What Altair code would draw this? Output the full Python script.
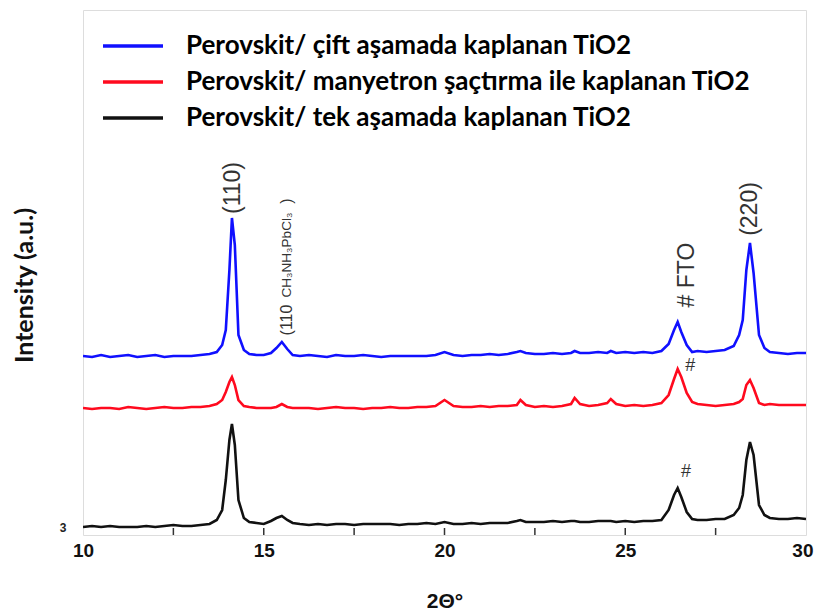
import altair as alt
import pandas as pd

# shared 2-theta grid (degrees)
two_theta = [
    10.0, 10.25, 10.5, 10.75, 11.0, 11.25, 11.5, 11.75, 12.0, 12.25, 12.5, 12.75, 13.0, 13.25, 13.5,
    13.7, 13.85, 13.95, 14.05, 14.12, 14.2, 14.3, 14.45, 14.6, 14.8,
    15.0, 15.2, 15.35, 15.5, 15.65, 15.8,
    16.0, 16.25, 16.5, 16.75, 17.0, 17.25, 17.5, 17.75, 18.0, 18.25, 18.5, 18.75,
    19.0, 19.25, 19.5, 19.75, 20.0, 20.25, 20.5, 20.75, 21.0, 21.25, 21.5, 21.75,
    22.0, 22.1, 22.25, 22.5, 22.75, 23.0, 23.25, 23.5, 23.6, 23.75,
    24.0, 24.25, 24.5, 24.6, 24.75, 25.0, 25.25, 25.5, 25.75, 26.0,
    26.2, 26.35, 26.45, 26.55, 26.7, 26.85, 27.0, 27.25, 27.5, 27.75,
    28.0, 28.15, 28.25, 28.35, 28.45, 28.55, 28.7, 28.85, 29.0, 29.25, 29.5, 29.75, 30.0,
]

# intensities (a.u., offset traces as drawn)
blue_cift = [
    179, 178, 180, 178, 179, 180, 178, 179, 180, 178, 179, 179, 179, 180, 181,
    183, 190, 205, 265, 317, 290, 200, 185, 181, 180,
    180, 182, 187, 193, 186, 180,
    179, 180, 179, 178, 180, 179, 179, 180, 179, 178, 179, 179,
    179, 179, 179, 180, 183, 180, 179, 180, 180, 181, 180, 181,
    183, 184, 182, 181, 181, 182, 181, 182, 184, 182,
    182, 183, 182, 184, 182, 183, 182, 183, 182, 184,
    191, 205, 213, 203, 190, 183, 184, 183, 184, 185,
    189, 200, 215, 265, 292, 262, 200, 187, 183, 182, 181, 182, 182,
]
red_manyetron = [
    127, 126, 127, 127, 126, 128, 127, 126, 127, 128, 127, 127, 128, 128, 129,
    131, 135, 143, 153, 158, 150, 135, 129, 128, 127,
    127, 127, 128, 131, 128, 127,
    127, 127, 126, 127, 128, 127, 127, 126, 127, 127, 128, 127,
    127, 128, 128, 129, 135, 129, 128, 128, 129, 128, 129, 129,
    130, 135, 130, 128, 129, 128, 129, 131, 137, 131,
    129, 130, 132, 136, 131, 129, 130, 129, 130, 132,
    140, 156, 166, 158, 142, 133, 131, 130, 129, 130,
    131, 133, 136, 150, 155, 147, 132, 130, 131, 130, 130, 130, 130,
]
black_tek = [
    8, 9, 8, 9, 8, 8, 8, 9, 8, 9, 10, 9, 9, 10, 11,
    15, 25, 55, 95, 111, 90, 35, 17, 13, 12,
    11, 14, 17, 19, 15, 12,
    11, 10, 11, 10, 11, 11, 10, 11, 11, 11, 11, 10,
    11, 11, 12, 11, 13, 11, 11, 12, 11, 12, 12, 12,
    14, 15, 13, 13, 13, 14, 13, 14, 14, 13,
    13, 14, 14, 14, 13, 14, 13, 14, 14, 15,
    25, 40, 47, 38, 23, 16, 15, 15, 16, 16,
    20, 27, 40, 75, 93, 80, 30, 20, 17, 16, 16, 17, 16,
]

series_names = [
    "Perovskit/ çift aşamada kaplanan TiO2",
    "Perovskit/ manyetron şaçtırma ile kaplanan TiO2",
    "Perovskit/ tek aşamada kaplanan TiO2",
]
series_colors = ["#1010ff", "#ff0a1e", "#111111"]

tick_values = [12.5, 15, 17.5, 20, 22.5, 25, 27.5]

ann_text = ["(110)", "(110", "CH₃NH₃PbCl₃", ")", "# FTO", "(220)"]
ann_x = [14.15, 15.64, 15.64, 15.64, 26.71, 28.45]
ann_y = [347, 215, 280, 334, 260, 326]
ann_size = [23, 16, 13.5, 16, 23, 23]

hash_x = [26.8, 26.68]
hash_y = [169, 63]

assert len(two_theta) == len(blue_cift) == len(red_manyetron) == len(black_tek)

rows = []
for name, ys in zip(series_names, [blue_cift, red_manyetron, black_tek]):
    for x, y in zip(two_theta, ys):
        rows.append({"x": x, "y": y, "series": name})
df = pd.DataFrame(rows)

xs = alt.Scale(domain=[10, 30], nice=False)
ys_ = alt.Scale(domain=[0, 525], nice=False)

lines = alt.Chart(df).mark_line(strokeWidth=2.6, clip=True).encode(
    x=alt.X("x:Q", scale=xs,
            axis=alt.Axis(title="2Θ°", values=[10, 15, 20, 25, 30], format="d", ticks=False,
                          domain=False, grid=False, labelFontSize=19, labelFont="Liberation Sans",
                          labelFontWeight="bold", labelColor="#111", labelPadding=6,
                          labelFlush=False,
                          labelAlign=alt.expr("datum.value == 30 ? 'right' : 'center'"),
                          labelOffset=alt.expr("datum.value == 30 ? 7 : 0"),
                          titleFontSize=21, titleFont="Liberation Sans",
                          titleFontWeight="bold", titleColor="#111", titlePadding=30)),
    y=alt.Y("y:Q", scale=ys_,
            axis=alt.Axis(title="Intensity (a.u.)", labels=False, ticks=False, domain=False,
                          grid=False, titleFontSize=25, titleFont="Lato", titleFontWeight="bold",
                          titleColor="#111", titlePadding=46, titleY=275)),
    color=alt.Color("series:N", scale=alt.Scale(domain=series_names, range=series_colors),
                    sort=series_names,
                    legend=alt.Legend(title=None, orient="none", legendX=37, legendY=23,
                                      symbolType="M-3,0L3,0", symbolSize=400, symbolStrokeWidth=3.5,
                                      labelFontSize=26, labelFont="Lato", labelFontWeight="bold",
                                      labelColor="#000", labelOffset=40, rowPadding=10,
                                      labelLimit=800, padding=0)),
    detail="series:N",
)

ticks_df = pd.DataFrame({"x": tick_values, "y0": [0] * len(tick_values), "y1": [7] * len(tick_values)})
ticks = alt.Chart(ticks_df).mark_rule(color="#333", strokeWidth=1.5).encode(
    x=alt.X("x:Q", scale=xs), y=alt.Y("y0:Q", scale=ys_), y2="y1:Q"
)

ann_df = pd.DataFrame({"t": ann_text, "x": ann_x, "y": ann_y, "s": ann_size})
ann = alt.Chart(ann_df).mark_text(angle=270, font="Liberation Sans", color="#333",
                                  align="center", baseline="middle").encode(
    x=alt.X("x:Q", scale=xs), y=alt.Y("y:Q", scale=ys_), text="t:N",
    size=alt.Size("s:Q", scale=None, legend=None),
)

hash_df = pd.DataFrame({"x": hash_x, "y": hash_y, "t": ["#", "#"]})
hashes = alt.Chart(hash_df).mark_text(font="Liberation Sans", fontSize=18, color="#333",
                                      align="center", baseline="middle").encode(
    x=alt.X("x:Q", scale=xs), y=alt.Y("y:Q", scale=ys_), text="t:N"
)

glitch_df = pd.DataFrame({"x": [9.45], "y": [7], "t": ["3"]})
glitch = alt.Chart(glitch_df).mark_text(font="Liberation Sans", fontSize=12, fontWeight="bold",
                                        color="#222", clip=False).encode(
    x=alt.X("x:Q", scale=xs), y=alt.Y("y:Q", scale=ys_), text="t:N"
)

chart = alt.layer(lines, ticks, ann, hashes, glitch).properties(
    width=723, height=525,
    autosize=alt.AutoSizeParams(type="none"),
    padding={"left": 75, "top": 2, "right": 8, "bottom": 80},
).configure_view(stroke="#555", strokeWidth=2).configure(background="white")

chart.save("out.html", embed_options={"renderer": "svg", "actions": False})
